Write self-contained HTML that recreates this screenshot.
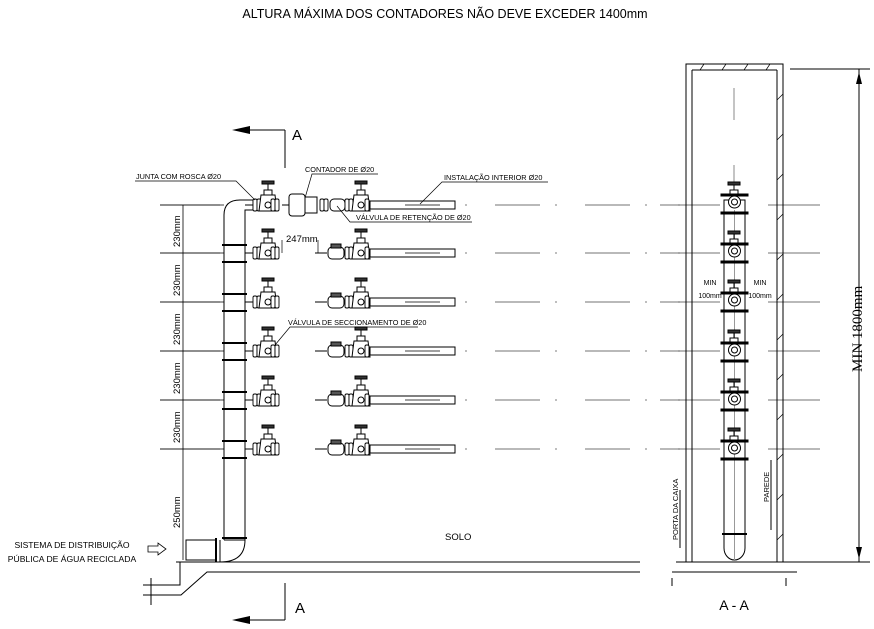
<!DOCTYPE html>
<html><head><meta charset="utf-8"><style>
html,body{margin:0;padding:0;background:#fff;}
svg{display:block;}
text{font-family:"Liberation Sans",sans-serif;fill:#000;}
</style></head><body>
<svg width="874" height="629" viewBox="0 0 874 629" xmlns="http://www.w3.org/2000/svg">
<defs>
 <g id="valve" stroke="#000" stroke-width="1" fill="#fff">
  <rect x="-6" y="-24" width="12" height="3" fill="#333"/>
  <line x1="0" y1="-21" x2="0" y2="-15"/>
  <rect x="-4" y="-15" width="8" height="5"/>
  <path d="M-7 -10 L7 -10 L9 6 L-9 6 Z"/>
  <circle cx="0" cy="0" r="3"/>
 </g>
 <g id="nut" stroke="#000" stroke-width="0.9" fill="#fff">
  <rect x="-2" y="-6" width="4" height="12" rx="1.5"/>
 </g>
 <g id="leftgrp">
  <use href="#nut" x="255"/><use href="#nut" x="259"/><use href="#nut" x="263"/>
  <use href="#valve" x="268"/>
  <use href="#nut" x="273"/><use href="#nut" x="277"/>
  <line x1="245" y1="0" x2="253" y2="0" stroke="#000"/>
 </g>
 <g id="rightgrp" stroke="#000" fill="#fff">
  <line x1="315" y1="0" x2="327" y2="0"/>
  <rect x="328" y="-6" width="16" height="12" rx="4"/>
  <rect x="331" y="-9" width="10" height="4" fill="#555"/>
  <use href="#nut" x="347"/><use href="#nut" x="351"/><use href="#nut" x="355"/>
  <use href="#valve" x="361"/>
  <use href="#nut" x="367"/>
  <rect x="370" y="-4" width="85" height="8"/>
  <line x1="405" y1="0" x2="440" y2="0" stroke-width="0.7"/>
 </g>
 <g id="cl" stroke="#444" stroke-width="0.7">
  <line x1="160" y1="0" x2="220" y2="0"/>
  <line x1="465" y1="0" x2="467" y2="0"/><line x1="495" y1="0" x2="540" y2="0"/>
  <line x1="555" y1="0" x2="557" y2="0"/><line x1="585" y1="0" x2="630" y2="0"/>
  <line x1="645" y1="0" x2="647" y2="0"/><line x1="660" y1="0" x2="680" y2="0"/>
  <line x1="678" y1="0" x2="720" y2="0"/><line x1="768" y1="0" x2="820" y2="0"/>
 </g>
 <g id="rv" stroke="#000" fill="#fff">
  <rect x="728" y="-20" width="12" height="3" fill="#333"/>
  <line x1="734" y1="-17" x2="734" y2="-10"/>
  <rect x="730" y="-12" width="8" height="5"/>
  <rect x="721" y="-8" width="27" height="2" fill="#000"/>
  <circle cx="734.5" cy="0" r="6"/><circle cx="734.5" cy="0" r="3"/>
  <rect x="721" y="10" width="27" height="2" fill="#000"/>
 </g>
</defs>

<text x="445" y="18" font-size="12.5" text-anchor="middle">ALTURA MÁXIMA DOS CONTADORES NÃO DEVE EXCEDER 1400mm</text>

<use href="#cl" y="205"/><use href="#cl" y="253"/><use href="#cl" y="302"/>
<use href="#cl" y="351"/><use href="#cl" y="400"/><use href="#cl" y="449"/>

<g stroke="#000" fill="#fff" stroke-width="1">
 <path d="M224 540 L224 215 Q224 200 240 200 L253 200 L253 210 L245 210 L245 540 Z"/>
 <path d="M224 540 L245 540 Q245 562 220 562 L220 540" />
 <rect x="186" y="540" width="30" height="20"/>
 <line x1="216" y1="538" x2="216" y2="562" stroke-width="2"/>
</g>
<g stroke="#000" stroke-width="2">
 <line x1="222" y1="245" x2="247" y2="245"/><line x1="222" y1="262" x2="247" y2="262"/>
 <line x1="222" y1="294" x2="247" y2="294"/><line x1="222" y1="311" x2="247" y2="311"/>
 <line x1="222" y1="343" x2="247" y2="343"/><line x1="222" y1="360" x2="247" y2="360"/>
 <line x1="222" y1="392" x2="247" y2="392"/><line x1="222" y1="409" x2="247" y2="409"/>
 <line x1="222" y1="441" x2="247" y2="441"/><line x1="222" y1="458" x2="247" y2="458"/>
 <line x1="222" y1="538" x2="247" y2="538"/>
</g>

<use href="#leftgrp" y="205"/>
<g stroke="#000" fill="#fff">
 <line x1="282" y1="205" x2="289" y2="205"/>
 <rect x="289" y="194" width="16" height="22" rx="3"/>
 <rect x="305" y="197" width="12" height="16"/>
 <use href="#nut" x="322" y="205"/><use href="#nut" x="326" y="205"/>
 <rect x="330" y="199" width="15" height="12" rx="4"/>
 <use href="#nut" x="347" y="205"/><use href="#nut" x="351" y="205"/><use href="#nut" x="355" y="205"/>
 <use href="#valve" x="361" y="205"/><use href="#nut" x="367" y="205"/>
 <rect x="370" y="201" width="85" height="8"/>
 <line x1="405" y1="205" x2="440" y2="205" stroke-width="0.7"/>
</g>
<g><use href="#leftgrp" y="253"/><use href="#rightgrp" y="253"/>
<use href="#leftgrp" y="302"/><use href="#rightgrp" y="302"/>
<use href="#leftgrp" y="351"/><use href="#rightgrp" y="351"/>
<use href="#leftgrp" y="400"/><use href="#rightgrp" y="400"/>
<use href="#leftgrp" y="449"/><use href="#rightgrp" y="449"/></g>

<g stroke="#000" stroke-width="0.7" fill="none">
 <polyline points="135,181 236,181 255,200"/>
 <polyline points="305,198 312,174 378,174"/>
 <polyline points="420,204 442,182 548,182"/>
 <polyline points="337,206 350,222 472,222"/>
 <polyline points="275,345 290,327 418,327"/>
 <line x1="282" y1="240" x2="282" y2="253"/><line x1="318" y1="240" x2="318" y2="253"/>
</g>
<g font-size="7.3">
 <text x="136" y="179">JUNTA COM ROSCA Ø20</text>
 <text x="305" y="172">CONTADOR DE Ø20</text>
 <text x="444" y="180">INSTALAÇÃO INTERIOR Ø20</text>
 <text x="356" y="220">VÁLVULA DE RETENÇÃO DE Ø20</text>
 <text x="288" y="325">VÁLVULA DE SECCIONAMENTO DE Ø20</text>
</g>
<text x="286" y="242" font-size="9.5">247mm</text>

<g stroke="#000" stroke-width="0.8">
 <line x1="183" y1="205" x2="183" y2="560"/>
 <line x1="160" y1="205" x2="224" y2="205"/>
 <line x1="160" y1="253" x2="224" y2="253"/>
 <line x1="160" y1="302" x2="224" y2="302"/>
 <line x1="160" y1="351" x2="224" y2="351"/>
 <line x1="160" y1="400" x2="224" y2="400"/>
 <line x1="160" y1="449" x2="224" y2="449"/>
</g>
<g font-size="9.5">
 <text transform="translate(180,247) rotate(-90)">230mm</text>
 <text transform="translate(180,296) rotate(-90)">230mm</text>
 <text transform="translate(180,345) rotate(-90)">230mm</text>
 <text transform="translate(180,394) rotate(-90)">230mm</text>
 <text transform="translate(180,443) rotate(-90)">230mm</text>
 <text transform="translate(180,528) rotate(-90)">250mm</text>
</g>

<g stroke="#000" stroke-width="1" fill="none">
 <line x1="176" y1="562" x2="640" y2="562"/>
 <polyline points="180,562 180,585 143,585"/>
 <polyline points="640,572 207,572 181,595 143,595"/>
 <line x1="151" y1="578" x2="151" y2="605"/>
 <line x1="285" y1="583" x2="285" y2="620"/>
 <line x1="285" y1="620" x2="245" y2="620"/>
 <line x1="285" y1="130" x2="285" y2="168"/>
 <line x1="285" y1="130" x2="245" y2="130"/>
 <path d="M148 546 L158 546 L158 543 L166 549 L158 555 L158 552 L148 552 Z" stroke-width="0.8"/>
</g>
<path d="M232 620 L250 616 L250 624 Z"/>
<path d="M232 130 L250 126 L250 134 Z"/>
<text x="292" y="140" font-size="15">A</text>
<text x="295" y="613" font-size="15">A</text>
<text x="445" y="540" font-size="9.5">SOLO</text>
<g font-size="8.6" text-anchor="middle">
 <text x="72" y="548">SISTEMA DE DISTRIBUIÇÃO</text>
 <text x="72" y="562">PÚBLICA DE ÁGUA RECICLADA</text>
</g>

<g stroke="#000" stroke-width="1" fill="none">
 <rect x="686" y="64" width="97" height="498"/>
 <line x1="692" y1="70" x2="692" y2="562"/>
 <line x1="692" y1="70" x2="777" y2="70"/>
 <line x1="777" y1="70" x2="777" y2="562"/>
 <line x1="676" y1="562" x2="795" y2="562"/>
 <line x1="672" y1="572" x2="797" y2="572"/>
 <line x1="790" y1="69" x2="870" y2="69"/>
 <line x1="790" y1="562" x2="870" y2="562"/>
 <line x1="859" y1="69" x2="859" y2="562"/>
 <line x1="734" y1="88" x2="734" y2="120" stroke="#888"/>
 <line x1="734" y1="165" x2="734" y2="190" stroke="#888"/>
 <path d="M724 200 L745 200 L745 548 A10.5 12 0 0 1 724 548 Z" fill="#fff"/>
 <line x1="734.5" y1="210" x2="734.5" y2="560" stroke="#999"/>
 <line x1="722" y1="534" x2="747" y2="534" stroke-width="2"/>
 <line x1="672" y1="578" x2="672" y2="586"/><line x1="786" y1="578" x2="786" y2="586"/>
 <line x1="680" y1="490" x2="680" y2="548"/>
 <line x1="771" y1="460" x2="771" y2="530"/>
</g>
<g stroke="#000" stroke-width="0.7">
 <path d="M700 70 l4 -6 M722 70 l4 -6 M744 70 l4 -6 M766 70 l4 -6"/>
 <path d="M777 100 l6 -6 M777 140 l6 -6 M777 180 l6 -6 M777 220 l6 -6 M777 260 l6 -6 M777 300 l6 -6 M777 340 l6 -6 M777 380 l6 -6 M777 420 l6 -6 M777 460 l6 -6 M777 500 l6 -6 M777 540 l6 -6"/>
</g>
<path d="M859 72 L856 84 L862 84 Z"/><path d="M859 559 L856 547 L862 547 Z"/>
<use href="#rv" y="202"/><use href="#rv" y="251"/><use href="#rv" y="300"/>
<use href="#rv" y="350"/><use href="#rv" y="399"/><use href="#rv" y="448"/>
<g font-size="7" text-anchor="middle">
 <text x="710" y="285">MIN</text><text x="710" y="298">100mm</text>
 <text x="760" y="285">MIN</text><text x="760" y="298">100mm</text>
</g>
<text transform="translate(862,372) rotate(-90)" font-size="15" style="font-family:'Liberation Serif',serif">MIN  1800mm</text>
<text transform="translate(678,540) rotate(-90)" font-size="7.5">PORTA DA CAIXA</text>
<text transform="translate(769,502) rotate(-90)" font-size="7.5">PAREDE</text>
<text x="734" y="610" font-size="14" text-anchor="middle">A - A</text>
</svg>
</body></html>
